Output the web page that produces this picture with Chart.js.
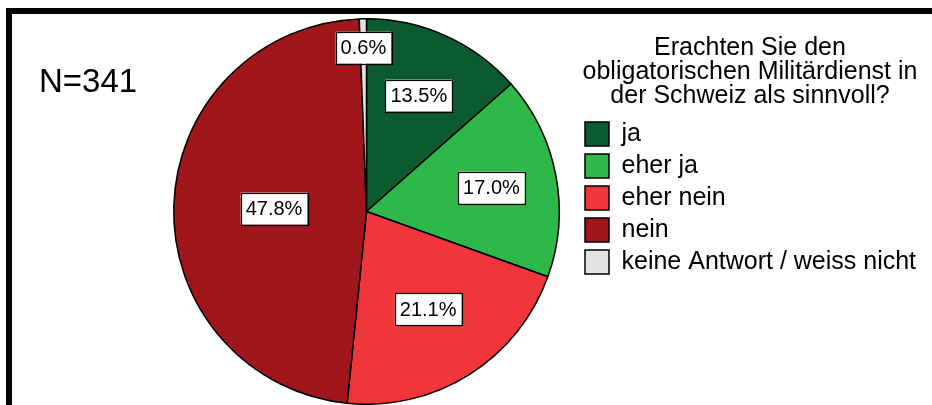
<!DOCTYPE html>
<html>
<head>
<meta charset="utf-8">
<script src="https://cdn.jsdelivr.net/npm/chart.js@4/dist/chart.umd.min.js"></script>
<style>
    body { margin: 0; background: #fff; }
    #wrap { position: relative; width: 932px; height: 405px; overflow: hidden; }
    #chart { position: absolute; left: 0; top: 0; }
    #frame {
        position: absolute; left: 6px; top: 8px; right: -10px; bottom: -10px;
        border-top: 6px solid #000; border-left: 6px solid #000;
        pointer-events: none;
    }
</style>
</head>
<body>
<div id="wrap">
    <canvas id="chart" width="932" height="405"></canvas>
    <div id="frame"></div>
</div>
<script>
// Daten
const categories = ["ja", "eher ja", "eher nein", "nein", "keine Antwort / weiss nicht"];
const percentages = [13.5, 17.0, 21.1, 47.8, 0.6];
const sampleSize = 341;
const questionLines = ["Erachten Sie den", "obligatorischen Militärdienst in", "der Schweiz als sinnvoll?"];

const sliceColors = ["#0b5a30", "#2fb84a", "#f0353b", "#a0161a", "#e2e2e2"];
const FONT = "'Liberation Sans', Arial, Helvetica, sans-serif";

// Prozent-Labels in weissen Kästchen
const pieLabels = {
    id: "pieLabels",
    afterDatasetsDraw(chart, args, opts) {
        const ctx = chart.ctx;
        const meta = chart.getDatasetMeta(0);
        ctx.save();
        ctx.font = "20px " + FONT;
        ctx.textAlign = "center";
        ctx.textBaseline = "middle";
        meta.data.forEach((arc, i) => {
            const p = arc.getProps(["x", "y", "startAngle", "endAngle", "outerRadius"], true);
            const mid = (p.startAngle + p.endAngle) / 2;
            const r = p.outerRadius * opts.radius[i];
            const cx = p.x + Math.cos(mid) * r;
            const cy = p.y + Math.sin(mid) * r;
            const txt = percentages[i].toFixed(1) + "%";
            const w = ctx.measureText(txt).width + 10;
            const h = 32;
            ctx.fillStyle = "#fff";
            ctx.fillRect(cx - w / 2, cy - h / 2, w, h);
            ctx.strokeStyle = "#000";
            ctx.lineWidth = 1.2;
            ctx.strokeRect(Math.round(cx - w / 2) + 0.5, Math.round(cy - h / 2) + 0.5, Math.round(w), h);
            ctx.fillStyle = "#000";
            ctx.fillText(txt, cx, cy + 1);
        });
        ctx.restore();
    },
};

// Frage über der Legende + N
const extraText = {
    id: "extraText",
    afterDraw(chart) {
        const ctx = chart.ctx;
        const lg = chart.legend;
        ctx.save();
        ctx.fillStyle = "#000";
        ctx.textBaseline = "alphabetic";
        ctx.textAlign = "center";
        ctx.font = "25px " + FONT;
        const cx = lg.left + 172;
        questionLines.forEach((line, i) => ctx.fillText(line, cx, 55 + i * 24));
        ctx.textAlign = "left";
        ctx.font = "33px " + FONT;
        ctx.fillText("N=" + sampleSize, 39, 92);
        ctx.restore();
    },
};

new Chart(document.getElementById("chart"), {
    type: "pie",
    data: {
        labels: categories,
        datasets: [{
            data: percentages,
            backgroundColor: sliceColors,
            borderColor: "#000",
            borderWidth: 1.5,
        }],
    },
    options: {
        responsive: false,
        animation: false,
        layout: { padding: { left: 155, top: 18, right: 14, bottom: 0 } },
        plugins: {
            tooltip: { enabled: false },
            legend: {
                position: "right",
                align: "start",
                maxWidth: 340,
                title: { display: true, text: "", font: { size: 25, family: FONT }, padding: { top: 0, bottom: 66.5 } },
                labels: {
                    boxWidth: 24,
                    boxHeight: 24,
                    padding: 7,
                    color: "#000",
                    font: { size: 25, family: FONT },
                },
            },
            pieLabels: { radius: [0.66, 0.66, 0.6, 0.48, 0.85] },
        },
    },
    plugins: [pieLabels, extraText],
});
</script>
</body>
</html>
